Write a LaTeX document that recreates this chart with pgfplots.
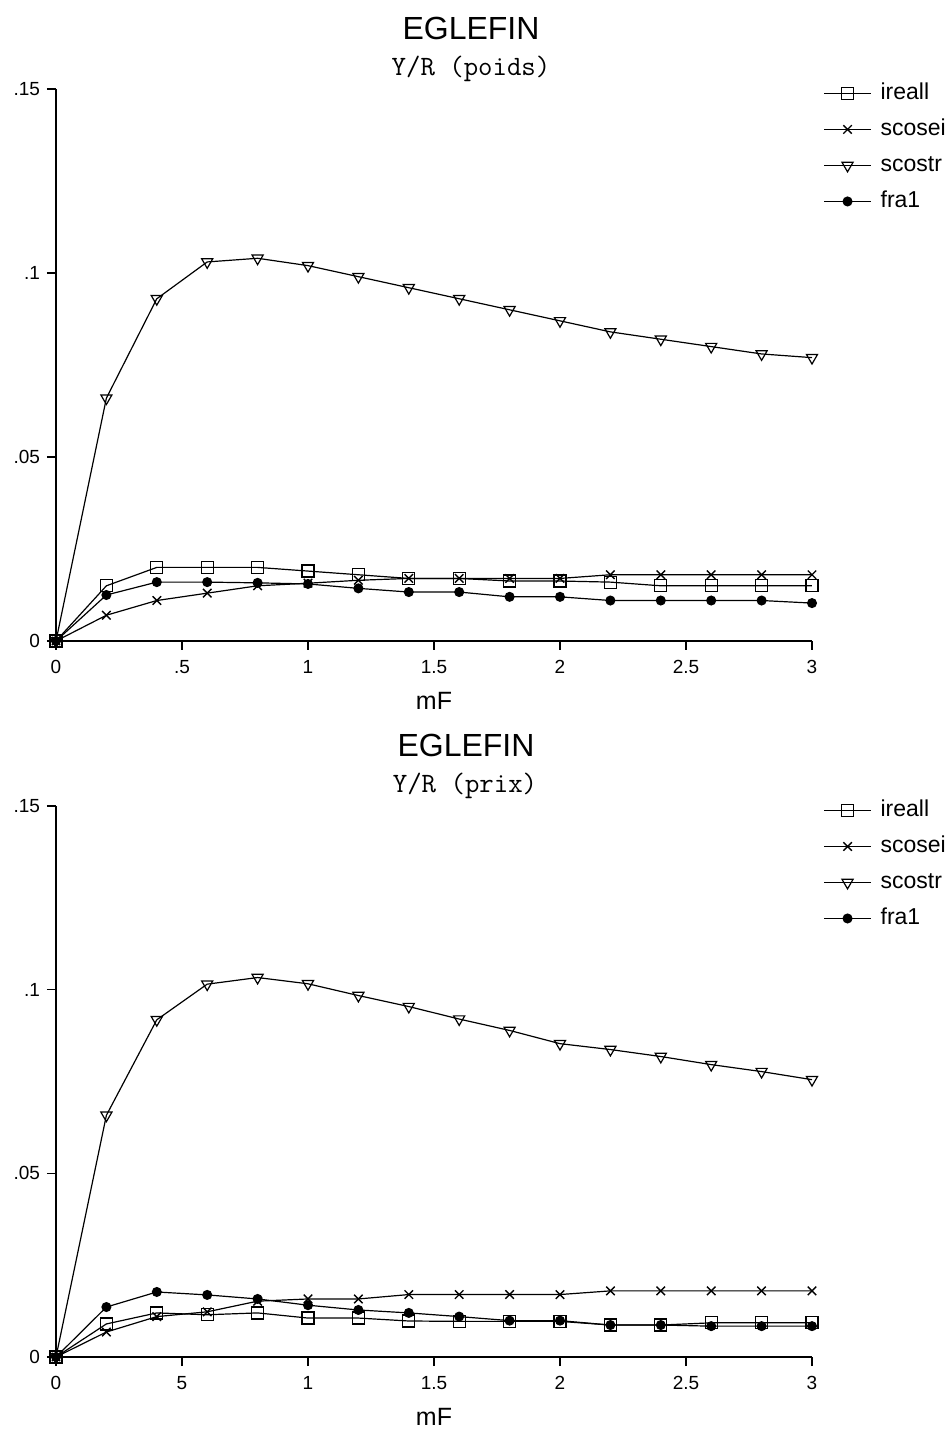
\documentclass[border=0pt]{standalone}
\usepackage{pgfplots}
\pgfplotsset{compat=1.18}
\usepackage{pgfplotstable}
\usepackage{fontspec}
\setmainfont{Liberation Sans}

\pgfplotstableread{
x     ireall  scosei  scostr  fra
0.0   0       0       0       0
0.2   0.015   0.007   0.066   0.0125
0.4   0.020   0.011   0.093   0.016
0.6   0.020   0.013   0.103   0.016
0.8   0.020   0.015   0.104   0.0158
1.0   0.019   0.0157  0.102   0.0155
1.2   0.018   0.0165  0.099   0.0143
1.4   0.017   0.017   0.096   0.0133
1.6   0.017   0.017   0.093   0.0133
1.8   0.0163  0.017   0.090   0.012
2.0   0.0163  0.017   0.087   0.012
2.2   0.016   0.018   0.084   0.011
2.4   0.015   0.018   0.082   0.011
2.6   0.015   0.018   0.080   0.011
2.8   0.015   0.018   0.078   0.011
3.0   0.015   0.018   0.077   0.0103
}\poids

\pgfplotstableread{
x     ireall  scosei  scostr  fra
0.0   0       0       0       0
0.2   0.009   0.0068  0.0658  0.0136
0.4   0.012   0.011   0.0918  0.0177
0.6   0.0115  0.0123  0.1015  0.0169
0.8   0.012   0.0152  0.1033  0.0158
1.0   0.0106  0.0158  0.1016  0.0141
1.2   0.0106  0.0158  0.0984  0.0128
1.4   0.0098  0.017   0.0954  0.012
1.6   0.0097  0.017   0.092   0.011
1.8   0.0097  0.017   0.0889  0.0099
2.0   0.0097  0.017   0.0853  0.0099
2.2   0.0087  0.018   0.0837  0.0087
2.4   0.0087  0.018   0.0818  0.0087
2.6   0.0093  0.018   0.0796  0.0084
2.8   0.0093  0.018   0.0777  0.0084
3.0   0.0093  0.018   0.0755  0.0084
}\prix

\pgfplotsset{
  eg/.style={
    anchor=south west, scale only axis,
    width=378pt,
    xmin=0, xmax=3, ymin=0, ymax=0.15,
    axis x line*=bottom, axis y line*=left,
    axis line style={-, line width=0.8pt},
    tick align=outside, major tick length=4.5pt,
    tick style={line width=0.7pt, black},
    xtick={0,0.5,1,1.5,2,2.5,3},
    ytick={0,0.05,0.1,0.15},
    yticklabels={0,.05,.1,.15},
    /pgf/number format/assume math mode=true,
    tick label style={font=\fontsize{9.5}{10}\selectfont},
    xticklabel style={yshift=-1.5pt},
    xlabel={mF},
    xlabel style={at={(axis description cs:0.5,0)}, anchor=center, yshift=-30pt, font=\fontsize{12.5}{13}\selectfont},
    clip=false,
    legend style={at={(1.0146,1.018)}, anchor=north west, draw=none, fill=none,
      inner sep=0pt, row sep=4pt, font=\fontsize{11.5}{12}\selectfont,
      nodes={inner sep=1.5pt, text height=8.5pt, text depth=2.5pt},
      /tikz/every odd column/.append style={column sep=3pt}},
    legend cell align=left,
    legend image code/.code={\draw[mark repeat=2,mark phase=2] plot coordinates {(0pt,0pt) (11.75pt,0pt) (23.5pt,0pt)};},
    every axis plot/.append style={black, line width=0.6pt},
  },
  sq/.style={mark=square, mark size=3pt, mark options={fill=white, line width=0.6pt}},
  cr/.style={mark=x, mark size=3pt, mark options={line width=0.7pt}},
  tr/.style={mark=triangle, mark size=3.2pt, mark options={rotate=180, fill=white, line width=0.6pt}},
  fr/.style={mark=*, mark size=2.2pt},
}

\begin{document}
\begin{tikzpicture}
\useasboundingbox (0,0) rectangle (474pt,716pt);

\node[font=\fontsize{16}{17}\selectfont] at (235.5pt,701.75pt) {EGLEFIN};
\node[font=\ttfamily\fontsize{14}{15}\selectfont] at (235.5pt,681.5pt) {Y/R (poids)};

\begin{axis}[eg, at={(28pt,395.5pt)}, height=276pt, xticklabels={0,.5,1,1.5,2,2.5,3}]
\addplot[sq] table[x=x,y=ireall]{\poids};
\addplot[cr] table[x=x,y=scosei]{\poids};
\addplot[tr] table[x=x,y=scostr]{\poids};
\addplot[fr] table[x=x,y=fra]{\poids};
\legend{ireall,scosei,scostr,fra1}
\end{axis}

\node[font=\fontsize{16}{17}\selectfont] at (233pt,343.25pt) {EGLEFIN};
\node[font=\ttfamily\fontsize{14}{15}\selectfont] at (232.5pt,323pt) {Y/R (prix)};

\begin{axis}[eg, at={(28pt,37.5pt)}, height=275.5pt, xticklabels={0,5,1,1.5,2,2.5,3}]
\addplot[sq] table[x=x,y=ireall]{\prix};
\addplot[cr] table[x=x,y=scosei]{\prix};
\addplot[tr] table[x=x,y=scostr]{\prix};
\addplot[fr] table[x=x,y=fra]{\prix};
\legend{ireall,scosei,scostr,fra1}
\end{axis}
\end{tikzpicture}
\end{document}
